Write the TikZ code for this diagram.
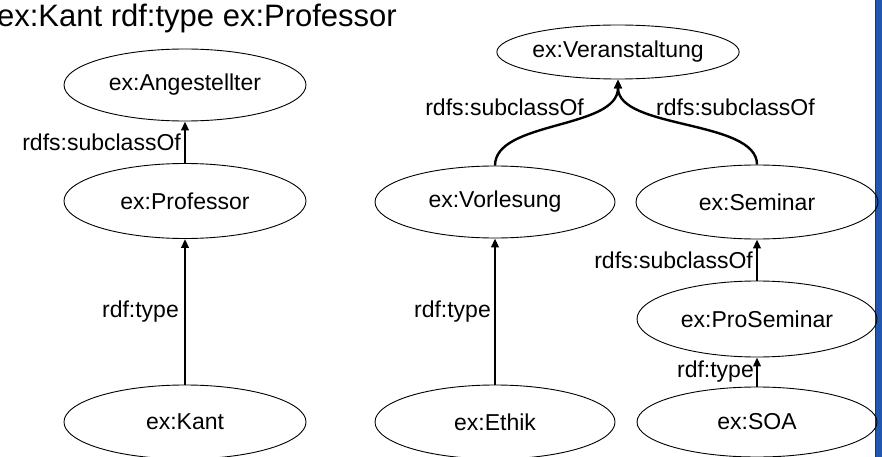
\documentclass[tikz,border=0pt]{standalone}
\usepackage{fontspec}
\setmainfont{Liberation Sans}
\usetikzlibrary{shapes.geometric,arrows.meta}

\definecolor{barblue}{RGB}{33,87,176}
\definecolor{baredge}{RGB}{22,52,120}

\tikzset{
  cls/.style={ellipse, draw=black, line width=0.9pt, inner sep=0pt,
              minimum width=242pt, minimum height=74pt,
              font=\fontsize{23}{27}\selectfont},
  lbl/.style={inner sep=3pt, font=\fontsize{23}{27}\selectfont},
  arr/.style={line width=2.4pt, -{Triangle[length=9pt,width=7.5pt]}},
}

\begin{document}
\begin{tikzpicture}[x=1pt,y=1pt]
  \useasboundingbox (0,0) rectangle (882,-457);

  % side bar
  \fill[barblue] (875,0) rectangle (882,-457);
  \draw[baredge, line width=1pt] (875.5,0) -- (875.5,-457);

  % heading
  \node[anchor=base east, inner sep=0pt, font=\fontsize{31}{36}\selectfont]
    (heading) at (397,-27) {ex:Kant rdf:type ex:Professor};

  % left hierarchy
  \node[cls, minimum height=72pt] (ang)  at (185,-85)  {ex:Angestellter};
  \node[cls, minimum height=75pt] (prof) at (185,-201) {ex:Professor};
  \node[cls]                      (kant) at (185,-422) {ex:Kant};

  % right hierarchy
  \node[cls, minimum width=240pt, minimum height=54pt] (ver) at (618,-52) {ex:Veranstaltung};
  \node[cls, minimum width=240pt, minimum height=72pt] (vor) at (495,-202) {ex:Vorlesung};
  \node[cls, minimum width=240pt]                      (eth) at (495,-422) {ex:Ethik};
  \node[cls]                                            (sem) at (757,-202) {ex:Seminar};
  \node[cls, minimum width=240pt, minimum height=76pt] (pro) at (757,-319) {ex:ProSeminar};
  \node[cls, minimum width=240pt, minimum height=70pt] (soa) at (757,-422) {ex:SOA};

  % straight relations
  \draw[arr] (prof.north) -- node[lbl, left] {rdfs:subclassOf} (ang.south);
  \draw[arr] (kant.north) -- node[lbl, left, inner sep=5pt] {rdf:type} (prof.south);
  \draw[arr] (eth.north)  -- node[lbl, left] {rdf:type} (vor.south);
  \draw[arr] (pro.north)  -- node[lbl, left] {rdfs:subclassOf} (sem.south);
  \draw[arr] (soa.north)  -- node[lbl, left, inner sep=2pt] {rdf:type} (pro.south);

  % curved relations into ex:Veranstaltung
  \draw[arr] (vor.north) .. controls +(0,45) and +(0,-50) .. (ver.south)
    node[lbl, anchor=east, xshift=-30pt, yshift=-28pt] {rdfs:subclassOf};
  \draw[arr] (sem.north) .. controls +(0,45) and +(0,-50) .. (ver.south)
    node[lbl, anchor=west, xshift=34pt, yshift=-28pt] {rdfs:subclassOf};
\end{tikzpicture}
\end{document}
